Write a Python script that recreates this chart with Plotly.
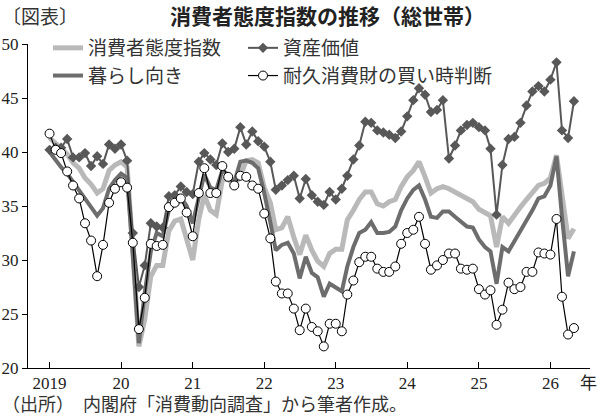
import plotly.graph_objects as go
import pandas as pd

months = pd.date_range("2019-01-01", periods=89, freq="MS")

consumer_index = [
    41.3, 40.8, 40.2, 39.8, 39.0, 38.5, 37.6, 37.0, 36.2, 36.6, 38.3, 38.8,
    39.1, 38.6, 30.9, 22.0, 24.5, 28.5, 29.5, 29.5, 32.7, 33.6, 33.8, 31.8,
    30.0, 33.8, 36.0, 34.6, 34.2, 37.4, 37.5, 36.9, 37.8, 39.2, 39.3, 39.0,
    36.7, 35.3, 32.8, 33.0, 34.0, 32.1, 30.5, 32.3, 30.9, 29.9, 29.4, 30.6,
    31.0, 31.0, 33.7, 34.6, 35.6, 36.3, 36.3, 35.2, 35.0, 35.4, 35.6, 36.8,
    37.7, 38.3, 39.1, 37.7, 36.2, 36.6, 36.8, 36.6, 36.3, 35.9, 35.6, 35.4,
    34.7, 34.4, 34.1, 31.2, 34.0, 33.4, 34.2, 34.9, 35.6, 36.2, 36.9, 37.1,
    37.6, 39.7, 35.8, 32.0, 32.9,
]
living = [
    40.0, 39.2, 38.6, 38.0, 37.2, 36.4, 35.6, 34.9, 34.1, 34.8, 36.6, 37.4,
    38.0, 37.6, 30.5, 22.3, 27.0, 30.8, 32.5, 32.2, 34.6, 35.2, 35.8, 35.0,
    33.4, 35.8, 37.9, 36.7, 36.5, 38.3, 37.9, 37.2, 39.1, 39.2, 39.0, 38.5,
    36.2, 33.5, 30.9, 31.4, 31.6, 30.6, 28.3, 30.3, 28.8, 28.4, 26.6, 27.8,
    27.4, 27.1, 29.4, 31.2, 32.5, 32.8, 33.5, 32.5, 32.5, 32.6, 33.1, 34.6,
    35.7, 36.5, 36.9, 35.6, 34.0, 33.9, 34.5, 34.5, 34.0, 33.6, 33.1, 33.0,
    31.9, 31.2, 30.8, 27.8, 31.2, 30.8, 31.7, 32.8, 33.7, 34.6, 35.7, 35.9,
    36.9, 39.6, 34.0, 28.5, 30.8,
]
asset_value = [
    40.2, 40.4, 40.4, 41.2, 39.5, 39.5, 39.9, 38.7, 39.6, 38.9, 40.7, 40.3,
    40.7, 39.2, 32.5, 27.5, 29.5, 33.4, 33.1, 33.0, 35.9, 36.0, 36.8, 36.3,
    36.1, 39.1, 39.9, 39.3, 38.8, 40.8, 40.0, 40.3, 42.3, 40.7, 41.9, 41.0,
    40.5, 39.1, 36.5, 36.9, 37.4, 37.8, 35.7, 37.5, 36.0, 35.4, 35.1, 36.3,
    35.6, 36.6, 37.8, 39.3, 40.6, 42.8, 42.7, 42.0, 41.8, 41.6, 41.3, 41.9,
    43.3, 44.8, 45.9, 45.3, 43.7, 43.9, 44.8, 39.4, 40.6, 42.0, 42.5, 42.7,
    42.3, 42.0, 40.3, 34.2, 38.8, 41.2, 41.4, 42.7, 44.3, 45.6, 46.1, 45.6,
    46.7, 48.3, 42.0, 41.3, 44.7,
]
durable_goods = [
    41.7, 40.2, 39.9, 38.2, 36.9, 35.7, 33.4, 31.8, 28.5, 31.4, 35.3, 36.6,
    37.2, 36.7, 31.6, 23.6, 26.5, 31.5, 31.3, 31.4, 34.9, 35.3, 35.7, 34.4,
    32.2, 36.2, 38.5, 36.2, 36.2, 38.7, 37.7, 36.9, 37.8, 37.7, 36.9, 36.6,
    34.3, 32.0, 28.0, 26.9, 26.9, 25.5, 23.5, 25.5, 23.8, 23.4, 22.0, 24.1,
    24.1, 23.4, 26.8, 28.1, 29.8, 30.3, 30.3, 29.2, 28.9, 28.9, 29.4, 31.5,
    32.5, 32.8, 34.0, 31.5, 29.1, 29.5, 30.0, 30.6, 30.6, 29.2, 29.1, 29.2,
    27.3, 26.8, 27.2, 24.0, 25.4, 27.9, 27.3, 27.5, 28.9, 28.9, 30.7, 30.6,
    30.5, 33.8, 26.6, 23.1, 23.7,
]

series_names = ["消費者態度指数", "暮らし向き", "資産価値", "耐久消費財の買い時判断"]
year_ticks = ["2019-01-01", "2020-01-01", "2021-01-01", "2022-01-01",
              "2023-01-01", "2024-01-01", "2025-01-01", "2026-01-01"]
year_labels = ["2019", "20", "21", "22", "23", "24", "25", "26"]
y_ticks = [20, 25, 30, 35, 40, 45, 50]

FONT = "Liberation Serif, Noto Sans CJK JP, serif"
W, H = 600, 420
L, R, T, B = 28, 10, 44, 52
PW, PH = W - L - R, H - T - B


def px(x):
    return (x - L) / PW


def py(y):
    return (H - B - y) / PH


fig = go.Figure()
fig.add_trace(go.Scatter(
    x=months, y=consumer_index, name=series_names[0], mode="lines",
    line=dict(color="#b9b9b9", width=5), legend="legend", legendrank=1))
fig.add_trace(go.Scatter(
    x=months, y=living, name=series_names[1], mode="lines",
    line=dict(color="#6d6d6d", width=4), legend="legend", legendrank=2))
fig.add_trace(go.Scatter(
    x=months, y=asset_value, name=series_names[2], mode="lines+markers",
    line=dict(color="#585858", width=2),
    marker=dict(symbol="diamond", size=8, color="#585858"),
    legend="legend2", legendrank=1))
fig.add_trace(go.Scatter(
    x=months, y=durable_goods, name=series_names[3], mode="lines+markers",
    line=dict(color="#000000", width=1.2),
    marker=dict(symbol="circle", size=9, color="white",
                line=dict(color="black", width=1)),
    legend="legend2", legendrank=2))

legend_style = dict(orientation="v", xanchor="left", yanchor="top",
                    font=dict(size=19, color="#333"), bgcolor="rgba(0,0,0,0)",
                    tracegroupgap=0, itemwidth=30, traceorder="normal")

fig.update_layout(
    width=W, height=H,
    margin=dict(l=L, r=R, t=T, b=B, autoexpand=False),
    paper_bgcolor="white", plot_bgcolor="white",
    font=dict(family=FONT, size=16, color="#222"),
    showlegend=True,
    legend=dict(x=px(48), y=py(29), **legend_style),
    legend2=dict(x=px(243), y=py(29), **legend_style),
    xaxis=dict(range=["2018-09-13", "2026-07-22"], tickvals=year_ticks,
               ticktext=year_labels, ticks="inside", ticklen=6, tickcolor="black",
               showline=True, linecolor="black", linewidth=1, showgrid=False,
               zeroline=False, automargin=False, tickfont=dict(size=17, color="#222")),
    yaxis=dict(range=[20, 50], tickvals=y_ticks, ticks="outside", ticklen=5,
               tickcolor="black", showline=True, linecolor="black", linewidth=1,
               showgrid=False, zeroline=False, automargin=False,
               tickfont=dict(size=17, color="#222")),
)

fig.add_annotation(text="〔図表〕", xref="paper", yref="paper", x=px(0), y=py(17),
                   xanchor="left", yanchor="middle", showarrow=False,
                   font=dict(size=19, color="#333"))
fig.add_annotation(text="<b>消費者態度指数の推移（総世帯）</b>", xref="paper", yref="paper",
                   x=px(327), y=py(17), xanchor="center", yanchor="middle",
                   showarrow=False, font=dict(size=21, color="#222"))
fig.add_annotation(text="年", xref="paper", yref="paper", x=px(588), y=py(383),
                   xanchor="center", yanchor="middle", showarrow=False,
                   font=dict(size=17, color="#222"))
fig.add_annotation(text="（出所）　内閣府「消費動向調査」から筆者作成。", xref="paper",
                   yref="paper", x=px(0), y=py(405), xanchor="left", yanchor="middle",
                   showarrow=False, font=dict(size=18, color="#333"))

fig.write_html("out.html")
